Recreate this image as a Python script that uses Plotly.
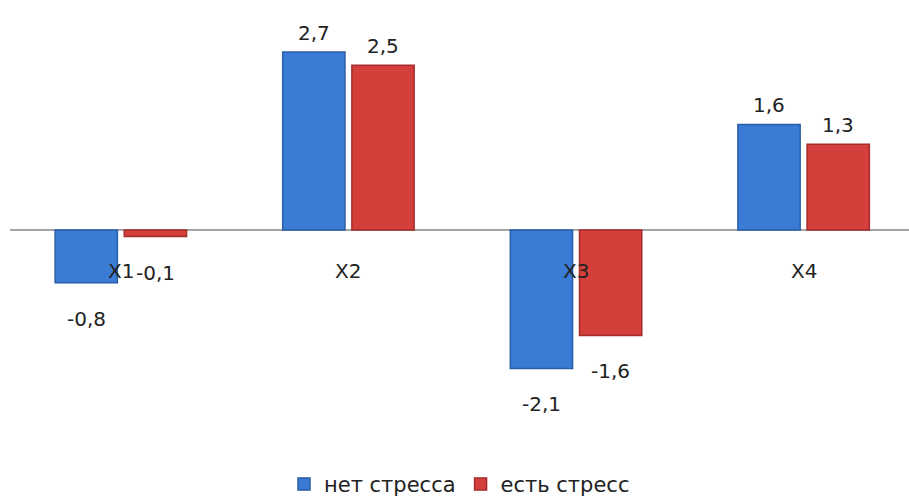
import plotly.graph_objects as go

categories = ["X1", "X2", "X3", "X4"]
no_stress = [-0.8, 2.7, -2.1, 1.6]
stress = [-0.1, 2.5, -1.6, 1.3]
series_names = ["нет стресса", "есть стресс"]
colors = ["#3A7BD5", "#D43F3C"]
edge_colors = ["#2A5EA6", "#A42C2A"]

FONT = "DejaVu Sans"

fig = go.Figure()
for name, vals, c, ec in zip(series_names, [no_stress, stress], colors, edge_colors):
    fig.add_trace(go.Bar(
        x=categories, y=vals, name=name,
        marker=dict(color=c, line=dict(color=ec, width=1.5)),
    ))

annotations = []
# category labels just below the zero line
for cat in categories:
    annotations.append(dict(x=cat, y=0, xref="x", yref="y", text=cat, showarrow=False,
                            yshift=-41, font=dict(family=FONT, size=20, color="#222")))
# value labels
for i, (vals, off) in enumerate([(no_stress, -0.5), (stress, 0.5)]):
    for j, v in enumerate(vals):
        txt = f"{v:.1f}".replace(".", ",")
        annotations.append(dict(
            x=j + off * 0.304, y=v, xref="x", yref="y", text=txt, showarrow=False,
            yshift=19 if v > 0 else -36,
            font=dict(family=FONT, size=20, color="#222")))

fig.update_layout(
    width=909, height=501,
    margin=dict(l=10, r=0, t=19, b=62, autoexpand=False),
    paper_bgcolor="white", plot_bgcolor="white",
    barmode="group", bargap=0.392, bargroupgap=0.1,
    showlegend=True,
    legend=dict(orientation="h", x=0.5, xanchor="center", y=-0.108, yanchor="middle",
                font=dict(family=FONT, size=21, color="#222"), itemwidth=30),
    xaxis=dict(range=[-0.487, 3.463], showticklabels=False, showgrid=False, zeroline=False,
               showline=False, ticks=""),
    yaxis=dict(range=[-3.17, 3.2], showticklabels=False, showgrid=False, zeroline=True,
               zerolinecolor="#A6A6A6", zerolinewidth=1.5, showline=False, ticks=""),
    annotations=annotations,
)

fig.write_html("out.html")
